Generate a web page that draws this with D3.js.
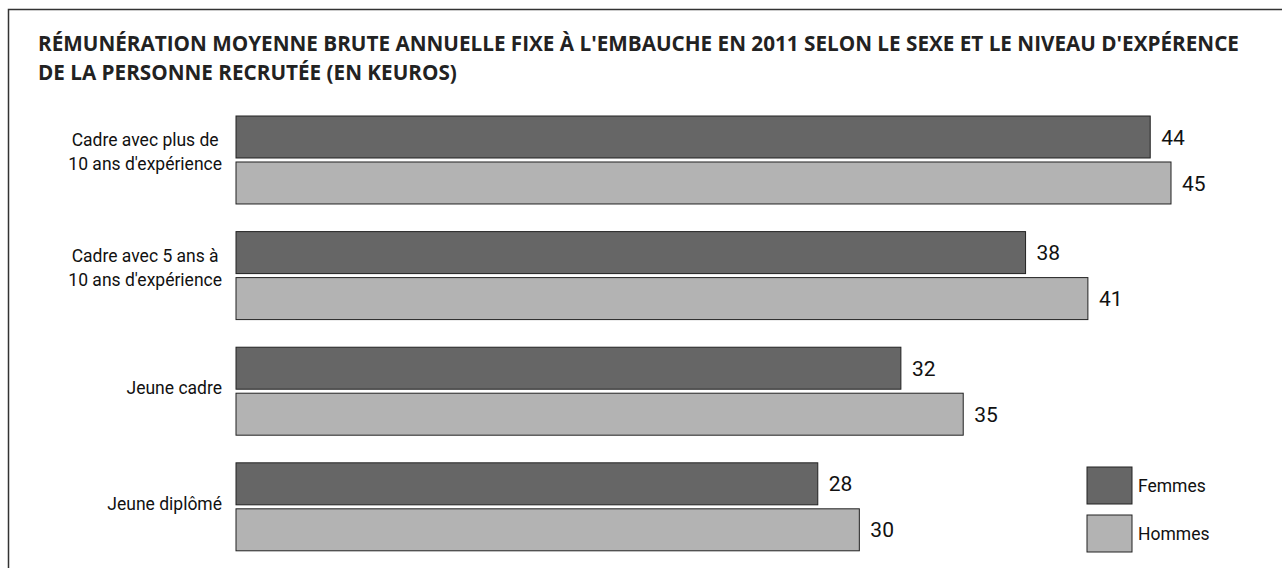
<!DOCTYPE html>
<html>
<head>
<meta charset="utf-8">
<script src="https://cdn.jsdelivr.net/npm/d3@7"></script>
<style>
  body { margin: 0; background: #fff; }
  svg text { font-family: "Open Sans", sans-serif; fill: #111; }
  .lbl { font-family: Roboto, "Open Sans", sans-serif; }
</style>
</head>
<body>
<div id="chart"></div>
<script>
// Data
const categories = [
    ["Cadre avec plus de", "10 ans d'expérience"],
    ["Cadre avec 5 ans à", "10 ans d'expérience"],
    ["Jeune cadre"],
    ["Jeune diplômé"]
];
const femmes = [44, 38, 32, 28];
const hommes = [45, 41, 35, 30];
const seriesNames = ["Femmes", "Hommes"];
const seriesColors = ["#666666", "#b3b3b3"];
const titleLines = [
    "RÉMUNÉRATION MOYENNE BRUTE ANNUELLE FIXE À L'EMBAUCHE EN 2011 SELON LE SEXE ET LE NIVEAU D'EXPÉRENCE",
    "DE LA PERSONNE RECRUTÉE (EN KEUROS)"
];

const width = 1282, height = 568;

const svg = d3.select("#chart").append("svg")
    .attr("width", width)
    .attr("height", height);

// Frame
svg.append("rect")
    .attr("x", 8.5).attr("y", 9.5)
    .attr("width", width + 10).attr("height", height + 10)
    .attr("fill", "none")
    .attr("stroke", "#333")
    .attr("stroke-width", 1.5);

// Title
svg.append("g").selectAll("text")
    .data(titleLines)
    .enter().append("text")
    .attr("x", 38)
    .attr("y", (d, i) => 51 + i * 29)
    .attr("font-size", "20.7px")
    .attr("font-weight", "bold")
    .style("fill", "#222")
    .text(d => d);

// Scales
const x = d3.scaleLinear().domain([0, 45]).range([236, 1171]);
const y = d3.scaleBand()
    .domain(d3.range(categories.length))
    .range([116, 550.8])
    .paddingInner(0.239)
    .paddingOuter(0);
const sub = d3.scaleBand().domain([0, 1]).range([0, y.bandwidth()]).paddingInner(0.087);

const rows = categories.map((c, i) => ({ i, label: c, values: [femmes[i], hommes[i]] }));

const group = svg.selectAll(".group")
    .data(rows)
    .enter().append("g")
    .attr("class", "group")
    .attr("transform", d => `translate(0,${y(d.i)})`);

// Bars
group.selectAll("rect")
    .data(d => d.values.map((v, s) => ({ v, s })))
    .enter().append("rect")
    .attr("x", x(0))
    .attr("y", d => sub(d.s))
    .attr("width", d => x(d.v) - x(0))
    .attr("height", sub.bandwidth())
    .attr("fill", d => seriesColors[d.s])
    .attr("stroke", "#222")
    .attr("stroke-width", 1);

// Value labels
group.selectAll(".val")
    .data(d => d.values.map((v, s) => ({ v, s })))
    .enter().append("text")
    .attr("class", "val lbl")
    .attr("x", d => x(d.v) + 11)
    .attr("y", d => sub(d.s) + sub.bandwidth() / 2)
    .attr("dy", "0.36em")
    .attr("font-size", "21px")
    .text(d => d.v);

// Category labels: block right-aligned, lines centred inside it
group.each(function(d) {
    const g = d3.select(this);
    const n = d.label.length;
    const mid = y.bandwidth() / 2 - (n > 1 ? 8 : 3);
    const texts = d.label.map((line, k) => g.append("text")
        .attr("class", "lbl")
        .attr("y", mid + (k - (n - 1) / 2) * 24)
        .attr("dy", "0.36em")
        .attr("text-anchor", "middle")
        .attr("font-size", "17.5px")
        .text(line));
    const w = d3.max(texts, t => t.node().getComputedTextLength());
    texts.forEach(t => t.attr("x", 222 - w / 2));
});

// Legend
const legend = svg.append("g").attr("transform", "translate(1087,467)");
seriesNames.forEach((name, s) => {
    legend.append("rect")
        .attr("x", 0).attr("y", s * 48)
        .attr("width", 45).attr("height", 37)
        .attr("fill", seriesColors[s])
        .attr("stroke", "#222");
    legend.append("text")
        .attr("class", "lbl")
        .attr("x", 51).attr("y", s * 48 + 19)
        .attr("dy", "0.36em")
        .attr("font-size", "17.5px")
        .text(name);
});
</script>
</body>
</html>
